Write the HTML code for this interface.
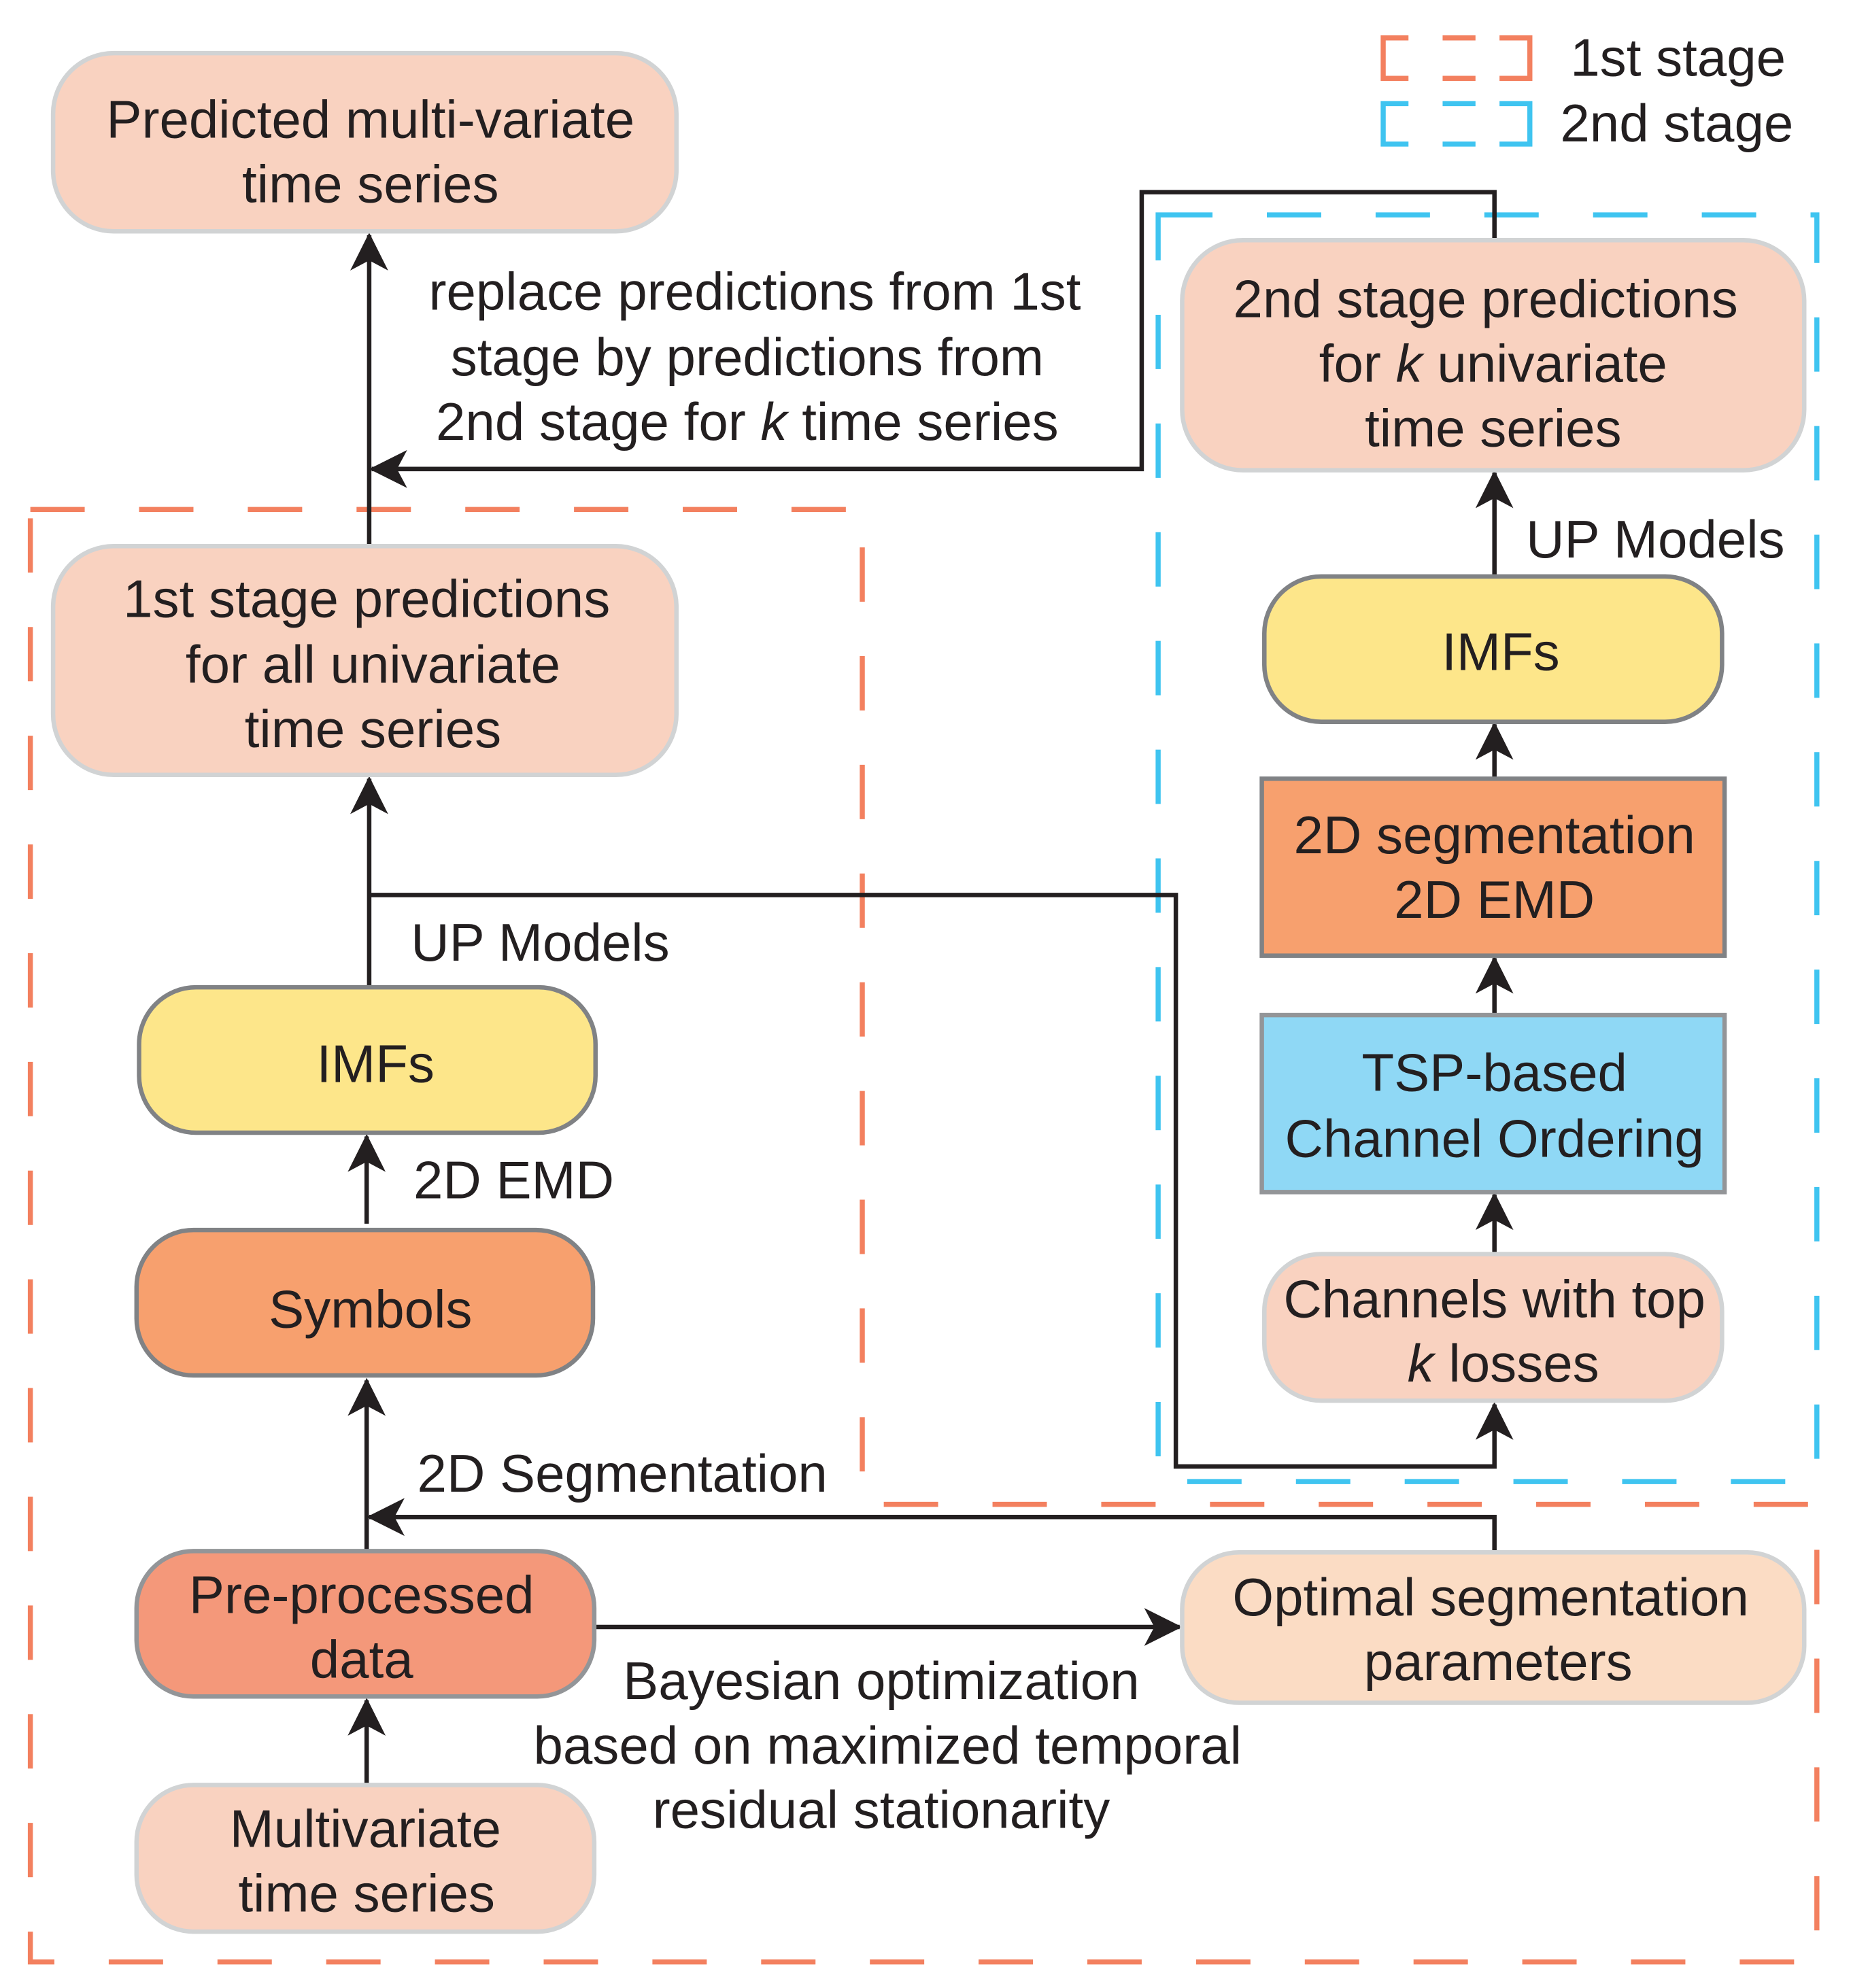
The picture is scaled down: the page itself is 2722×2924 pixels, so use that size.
<!DOCTYPE html>
<html><head><meta charset="utf-8"><style>html,body{margin:0;padding:0;background:#fff}svg{display:block}</style></head><body>
<svg xmlns="http://www.w3.org/2000/svg" width="2722" height="2924" viewBox="0 0 1464 1572.6" preserveAspectRatio="none" font-family="Liberation Sans, sans-serif" font-size="42" fill="#231f20">
<defs>
<marker id="ah" viewBox="0 0 30 30" refX="28" refY="15" markerWidth="30" markerHeight="30" markerUnits="userSpaceOnUse" orient="auto">
<path d="M0,0 L30,15 L0,30 L8,15 Z" fill="#231f20"/>
</marker>
</defs>
<path d="M24,403 H682 V1190 H1437 V1552 H24 Z" fill="none" stroke="#f3805f" stroke-width="4" stroke-dasharray="43 43"/>
<rect x="916" y="170" width="521" height="1002" fill="none" stroke="#3fc4f0" stroke-width="4" stroke-dasharray="43 43"/>
<g fill="none" stroke-width="4">
<path d="M1114,30 H1094 V62 H1114 M1141,30 H1167 M1141,62 H1167 M1186,30 H1210 V62 H1186" stroke="#f3805f"/>
<path d="M1114,82 H1094 V114 H1114 M1141,82 H1167 M1141,114 H1167 M1186,82 H1210 V114 H1186" stroke="#3fc4f0"/>
</g>
<text x="1242" y="60">1st stage</text>
<text x="1234" y="112">2nd stage</text>
<g stroke="#231f20" stroke-width="3.5" fill="none">
<path d="M292,432 V186" marker-end="url(#ah)"/>
<path d="M1182,190 V152 H903 V371 H294" marker-end="url(#ah)"/>
<path d="M292,781 V616" marker-end="url(#ah)"/>
<path d="M292,708 H930 V1160 H1182 V1111" marker-end="url(#ah)"/>
<path d="M290,968 V899" marker-end="url(#ah)"/>
<path d="M290,1227 V1092" marker-end="url(#ah)"/>
<path d="M1182,1228 V1200 H292" marker-end="url(#ah)"/>
<path d="M471,1287 H933" marker-end="url(#ah)"/>
<path d="M290,1412 V1345" marker-end="url(#ah)"/>
<path d="M1182,456 V374" marker-end="url(#ah)"/>
<path d="M1182,616 V573" marker-end="url(#ah)"/>
<path d="M1182,803 V758" marker-end="url(#ah)"/>
<path d="M1182,992 V945" marker-end="url(#ah)"/>
</g>
<g stroke-width="3.5">
<rect x="42" y="42" width="493" height="141" rx="48" fill="#f9d2c0" stroke="#d1d3d4"/>
<rect x="42" y="432" width="493" height="181" rx="48" fill="#f9d2c0" stroke="#d1d3d4"/>
<rect x="110" y="781" width="361" height="115" rx="45" fill="#fde68a" stroke="#808285"/>
<rect x="108" y="973" width="361" height="115" rx="45" fill="#f7a06e" stroke="#808285"/>
<rect x="108" y="1227" width="362" height="115" rx="45" fill="#f4987a" stroke="#939598"/>
<rect x="108" y="1412" width="362" height="116" rx="45" fill="#f9d2c0" stroke="#d1d3d4"/>
<rect x="935" y="1228" width="492" height="119" rx="45" fill="#fbdcc4" stroke="#d1d3d4"/>
<rect x="935" y="190" width="492" height="182" rx="48" fill="#f9d2c0" stroke="#d1d3d4"/>
<rect x="1000" y="456" width="362" height="115" rx="45" fill="#fde68a" stroke="#808285"/>
<rect x="998" y="616" width="366" height="140" fill="#f7a06e" stroke="#808285"/>
<rect x="998" y="803" width="366" height="140" fill="#8fd8f5" stroke="#939598"/>
<rect x="1000" y="992" width="362" height="116" rx="45" fill="#f9d2c0" stroke="#d1d3d4"/>
</g>
<g text-anchor="middle">
<text x="293" y="109">Predicted multi-variate</text>
<text x="293" y="160">time series</text>
<text x="290" y="488">1st stage predictions</text>
<text x="295" y="540">for all univariate</text>
<text x="295" y="591">time series</text>
<text x="297" y="856">IMFs</text>
<text x="293" y="1050">Symbols</text>
<text x="286" y="1276">Pre-processed</text>
<text x="286" y="1327">data</text>
<text x="289" y="1461">Multivariate</text>
<text x="290" y="1512">time series</text>
<text x="1179" y="1278">Optimal segmentation</text>
<text x="1185" y="1329">parameters</text>
<text x="1175" y="251">2nd stage predictions</text>
<text x="1181" y="302">for <tspan font-style="italic">k</tspan> univariate</text>
<text x="1181" y="353">time series</text>
<text x="1187" y="530">IMFs</text>
<text x="1182" y="675">2D segmentation</text>
<text x="1182" y="726">2D EMD</text>
<text x="1182" y="863">TSP-based</text>
<text x="1182" y="915">Channel Ordering</text>
<text x="1182" y="1042">Channels with top</text>
<text x="1189" y="1093"><tspan font-style="italic">k</tspan> losses</text>
<text x="597" y="245">replace predictions from 1st</text>
<text x="591" y="297">stage by predictions from</text>
<text x="591" y="348">2nd stage for <tspan font-style="italic">k</tspan> time series</text>
<text x="697" y="1344">Bayesian optimization</text>
<text x="702" y="1395">based on maximized temporal</text>
<text x="697" y="1446">residual stationarity</text>
</g>
<text x="1207" y="441">UP Models</text>
<text x="325" y="760">UP Models</text>
<text x="327" y="948">2D EMD</text>
<text x="330" y="1180">2D Segmentation</text>
</svg>
</body></html>
